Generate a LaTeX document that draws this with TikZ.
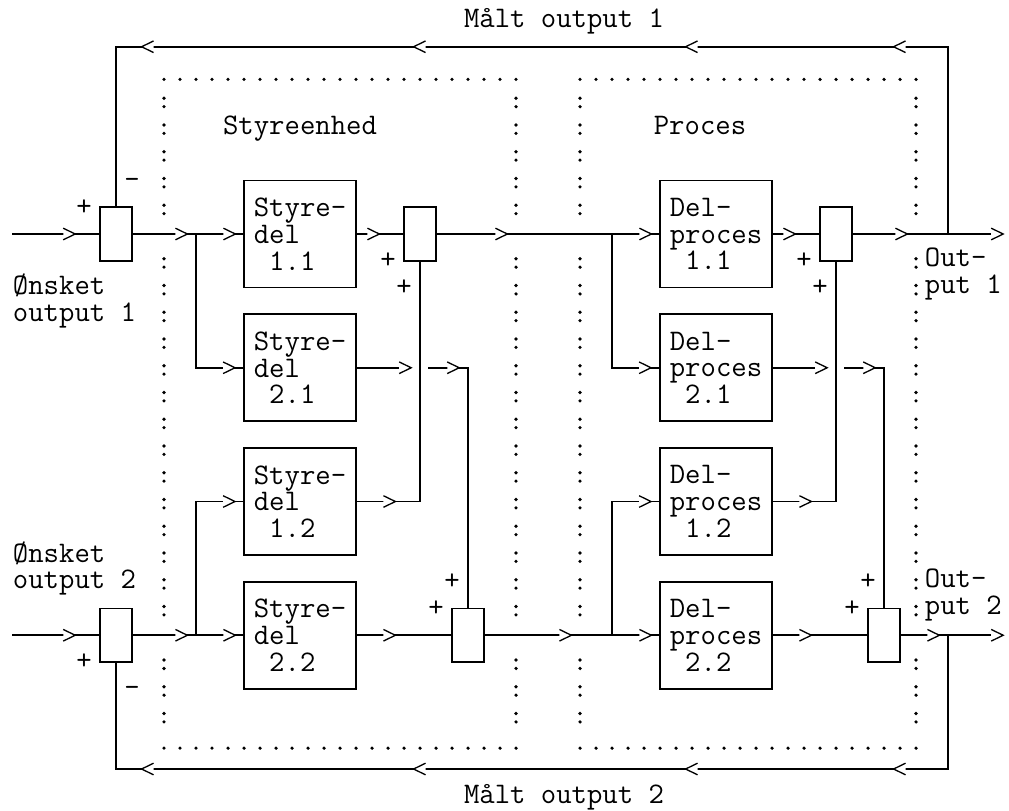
\documentclass[tikz,border=0pt]{standalone}
\usepackage{fontspec}
\usetikzlibrary{decorations.markings}

\newcommand{\celw}{3.2mm}
\newcommand{\rowh}{5.35mm}
\newcommand{\chevtip}{\draw[solid,line width=0.75pt,fill=white] (-6.8pt,3.3pt) -- (0pt,0pt) -- (-6.8pt,-3.3pt);}

\tikzset{
  sumbox/.style={draw,minimum width=6.4mm,minimum height=10.7mm,inner sep=0pt},
  blok/.style={draw,minimum width=22.4mm,minimum height=21.4mm,inner sep=0pt,align=left},
  tekst/.style={inner sep=0pt,anchor=base},
  chev/.style={postaction={decorate,decoration={markings,mark=at position #1 with {\chevtip}}}},
  hprik/.style={line width=2.1pt,line cap=round,dash pattern=on 0pt off 9.105pt},
  vprik/.style={line width=2.1pt,line cap=round,dash pattern=on 0pt off 4.78pt on 0pt off 10.44pt},
}

\begin{document}
\begin{tikzpicture}[x=\celw,y=-\rowh,line width=1.1pt,font=\ttfamily\fontsize{17pt}{15.22pt}\selectfont]
\useasboundingbox (-1.25,-0.7477) rectangle (61.8125,29.533);

% Styreenhed
\draw[hprik] (9,2.22) -- (31.05,2.22);
\draw[hprik] (9,27.22) -- (31.05,27.22);
\draw[vprik] (9,2.925) -- (9,7.26) (9,8.925) -- (9,22.26) (9,23.925) -- (9,26.26);
\draw[vprik] (31,2.925) -- (31,7.26) (31,8.925) -- (31,22.26) (31,23.925) -- (31,26.26);
\node[tekst] (styr) at (17.5,4.29) {Styreenhed};

% Proces
\draw[hprik] (35,2.22) -- (56.05,2.22);
\draw[hprik] (35,27.22) -- (56.05,27.22);
\draw[vprik] (35,2.925) -- (35,7.26) (35,8.925) -- (35,22.26) (35,23.925) -- (35,26.26);
\draw[vprik] (56,2.925) -- (56,7.26) (56,8.925) -- (56,22.26) (56,23.925) -- (56,26.26);
\node[tekst] (proc) at (42.5,4.29) {Proces};

% summationer
\node[sumbox] (sum1) at (6,8) {};
\node[sumbox] (sum4) at (6,23) {};
\node[sumbox] (sum2) at (25,8) {};
\node[sumbox] (sum3) at (28,23) {};
\node[sumbox] (sum5) at (51,8) {};
\node[sumbox] (sum6) at (54,23) {};

% styredele
\node[blok] (sd11) at (17.5,8) {Styre-\\del\\\hphantom{0}1.1};
\node[blok] (sd21) at (17.5,13) {Styre-\\del\\\hphantom{0}2.1};
\node[blok] (sd12) at (17.5,18) {Styre-\\del\\\hphantom{0}1.2};
\node[blok] (sd22) at (17.5,23) {Styre-\\del\\\hphantom{0}2.2};

% delprocesser
\node[blok] (dp11) at (43.5,8) {Del-\\proces\\\hphantom{0}1.1};
\node[blok] (dp21) at (43.5,13) {Del-\\proces\\\hphantom{0}2.1};
\node[blok] (dp12) at (43.5,18) {Del-\\proces\\\hphantom{0}1.2};
\node[blok] (dp22) at (43.5,23) {Del-\\proces\\\hphantom{0}2.2};

\coordinate (in1) at (-0.5,8);
\coordinate (in2) at (-0.5,23);
\coordinate (js1) at (11,8);
\coordinate (js2) at (11,23);
\coordinate (jp1) at (37,8);
\coordinate (jp2) at (37,23);
\coordinate (jo1) at (58,8);
\coordinate (jo2) at (58,23);
\coordinate (ud1) at (61.45,8);
\coordinate (ud2) at (61.45,23);
\coordinate (top) at (0,1);
\coordinate (bund) at (0,28);
\coordinate (g1) at (24.45,13);
\coordinate (g2) at (25.5,13);
\coordinate (g3) at (50.45,13);
\coordinate (g4) at (51.5,13);

% output 1
\draw[chev=3.95*\celw] (in1) -- (sum1.west);
\draw[chev=3.4*\celw,chev=6.4*\celw] (sum1.east) -- (sd11.west);
\draw[chev=-0.5*\celw] (js1) |- (sd21.west);
\draw[chev=1.4*\celw] (sd11.east) -- (sum2.west);
\draw[chev=2.4*\celw] (sd12.east) -| (sum2.south);
\draw[chev=4.4*\celw,chev=13.4*\celw] (sum2.east) -- (dp11.west);
\draw[chev=-0.5*\celw] (jp1) |- (dp21.west);
\draw[chev=1.4*\celw] (dp11.east) -- (sum5.west);
\draw[chev=2.4*\celw] (dp12.east) -| (sum5.south);
\draw[chev=3.4*\celw,chev=-0.01pt] (sum5.east) -- (ud1);

% output 2
\draw[chev=3.95*\celw] (in2) -- (sum4.west);
\draw[chev=3.4*\celw,chev=6.4*\celw] (sum4.east) -- (sd22.west);
\draw[chev=-0.5*\celw] (js2) |- (sd12.west);
\draw[chev=-0.01pt] (sd21.east) -- (g1);
\draw[chev=1.95*\celw] (g2) -| (sum3.north);
\draw[chev=2.4*\celw] (sd22.east) -- (sum3.west);
\draw[chev=5.4*\celw,chev=10.4*\celw] (sum3.east) -- (dp22.west);
\draw[chev=-0.5*\celw] (jp2) |- (dp12.west);
\draw[chev=-0.01pt] (dp21.east) -- (g3);
\draw[chev=1.95*\celw] (g4) -| (sum6.north);
\draw[chev=2.4*\celw] (dp22.east) -- (sum6.west);
\draw[chev=2.4*\celw,chev=-0.01pt] (sum6.east) -- (ud2);

% tilbagekobling
\draw[chev={7*\rowh+3.4*\celw},chev={7*\rowh+16.4*\celw},chev={7*\rowh+33.4*\celw},chev={7*\rowh+50.4*\celw}]
  (jo1) -- (jo1 |- top) -| (sum1.north);
\draw[chev={5*\rowh+3.4*\celw},chev={5*\rowh+16.4*\celw},chev={5*\rowh+33.4*\celw},chev={5*\rowh+50.4*\celw}]
  (jo2) -- (jo2 |- bund) -| (sum4.south);

% fortegn
\node[tekst] (pl1) at (4,7.29) {+};
\node[tekst] (mi1) at (7,6.29) {-};
\node[tekst] (pl2) at (4,24.29) {+};
\node[tekst] (mi2) at (7,25.29) {-};
\node[tekst] (pl3) at (23,9.29) {+};
\node[tekst] (pl4) at (24,10.29) {+};
\node[tekst] (pl5) at (27,21.29) {+};
\node[tekst] (pl6) at (26,22.29) {+};
\node[tekst] (pl7) at (49,9.29) {+};
\node[tekst] (pl8) at (50,10.29) {+};
\node[tekst] (pl9) at (53,21.29) {+};
\node[tekst] (pl10) at (52,22.29) {+};

% tekster
\node[tekst] (maalt1) at (34,0.29) {Målt output 1};
\node[tekst] (maalt2) at (34,29.29) {Målt output 2};
\node[anchor=west,align=left,inner sep=0pt] (oen1) at (-0.5,10.5) {Ønsket\\output 1};
\node[anchor=west,align=left,inner sep=0pt] (oen2) at (-0.5,20.5) {Ønsket\\output 2};
\node[anchor=west,align=left,inner sep=0pt] (ud1t) at (56.5,9.5) {Out-\\put 1};
\node[anchor=west,align=left,inner sep=0pt] (ud2t) at (56.5,21.5) {Out-\\put 2};

\end{tikzpicture}
\end{document}
